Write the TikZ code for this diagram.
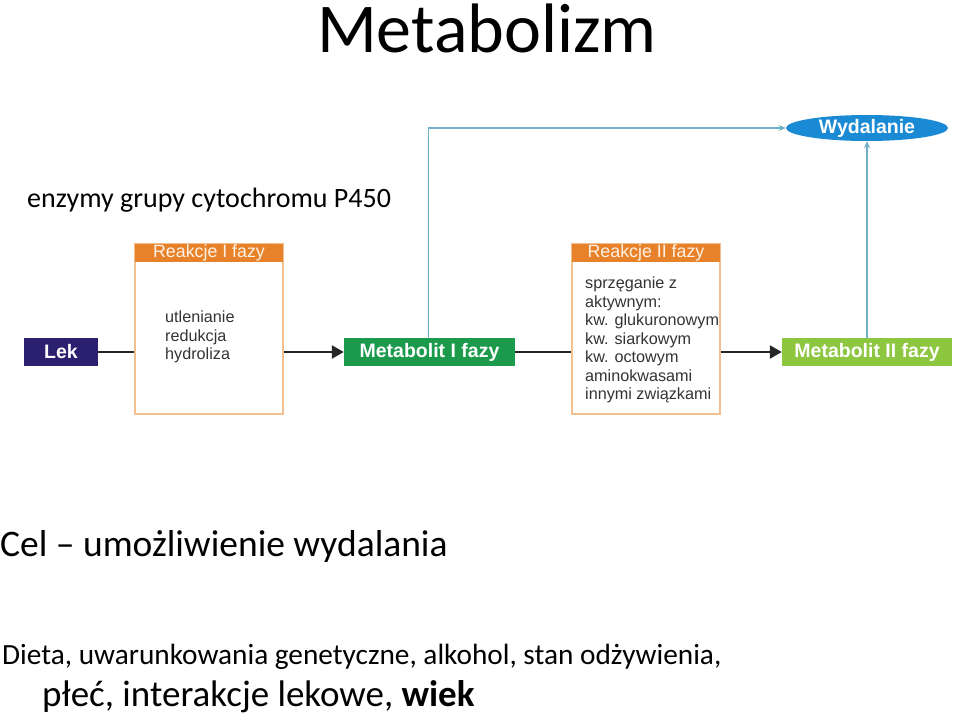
\documentclass[tikz,border=0pt]{standalone}
\usepackage{fontspec}
\setmainfont{Carlito}
\newfontfamily\diagfont{Liberation Sans}
\usetikzlibrary{arrows.meta,shapes.geometric}
\definecolor{lekblue}{HTML}{2B1F70}
\definecolor{metagreen}{HTML}{1B9A4B}
\definecolor{metalight}{HTML}{8DC63F}
\definecolor{phaseorange}{HTML}{E8822A}
\definecolor{boxborder}{HTML}{F2C08F}
\definecolor{exitblue}{HTML}{1A8AD4}
\definecolor{linkblue}{HTML}{6FAFC8}
\tikzstyle{stage} = [rectangle, text=white, font=\diagfont\bfseries\fontsize{19.5}{21}\selectfont, inner sep=0pt, minimum height=28pt]
\tikzstyle{phase} = [rectangle, draw=boxborder, line width=1.2pt, minimum width=148pt, minimum height=170pt, inner sep=0pt]
\tikzstyle{phasehead} = [rectangle, fill=phaseorange, text=white!90!orange, font=\diagfont\fontsize{17.8}{19}\selectfont, minimum width=148pt, minimum height=18pt, inner sep=0pt]
\tikzstyle{phasetext} = [align=left, font=\diagfont\fontsize{16.2}{18.5}\selectfont, text=black!80, inner sep=0pt]
\tikzset{edge/.style = {line width=2.5pt, black!85, -{Triangle[length=12pt,width=13pt]}},
  link/.style = {line width=1.2pt, linkblue, -{Stealth[length=7pt,width=6pt]}}}
\begin{document}
\begin{tikzpicture}[x=1pt, y=-1pt]
  \useasboundingbox (0,0) rectangle (960,718);
  % texts
  \node (title) at (487,28) {\fontsize{70}{72}\selectfont Metabolizm};
  \node[anchor=west, inner sep=0pt] (enzymes) at (27,200) {\fontsize{28}{30}\selectfont enzymy grupy cytochromu P450};
  \node[anchor=west, inner sep=0pt] (goal) at (0,546) {\fontsize{37.5}{40}\selectfont Cel -- umożliwienie wydalania};
  \node[anchor=west, inner sep=0pt] (factors1) at (2,657) {\fontsize{29.3}{34}\selectfont Dieta, uwarunkowania genetyczne, alkohol, stan odżywienia,};
  \node[anchor=west, inner sep=0pt] (factors2) at (42,697) {\fontsize{37}{40}\selectfont płeć, interakcje lekowe, \textbf{wiek}};

  % vertices
  \node[stage, fill=lekblue, minimum width=74pt] (lek) at (61,352) {Lek};
  \node[phase] (ph1) at (209,329) {};
  \node[phasehead, anchor=north] (ph1head) at (ph1.north) {Reakcje I fazy};
  \node[phasetext, anchor=north west] (ph1text) at (165,311) {utlenianie\\redukcja\\hydroliza};
  \node[stage, fill=metagreen, minimum width=171pt] (met1) at (429.5,352) {Metabolit I fazy};
  \node[phase] (ph2) at (646,329) {};
  \node[phasehead, anchor=north] (ph2head) at (ph2.north) {Reakcje II fazy};
  \node[phasetext, anchor=north west] (ph2text) at (585,277) {sprzęganie z\\aktywnym:\\kw. glukuronowym\\kw. siarkowym\\kw. octowym\\aminokwasami\\innymi związkami};
  \node[stage, fill=metalight, minimum width=170pt] (met2) at (867,352) {Metabolit II fazy};
  \node[ellipse, fill=exitblue, text=white, font=\diagfont\bfseries\fontsize{19.5}{21}\selectfont, minimum width=162pt, minimum height=26pt, inner sep=0pt] (exit) at (867,128) {Wydalanie};

  % edges
  \draw[line width=2.5pt, black!85] (lek.east) -- (lek.east -| ph1.west);
  \draw[edge] (met1.west -| ph1.east) -- (met1.west);
  \draw[line width=2.5pt, black!85] (met1.east) -- (met1.east -| ph2.west);
  \draw[edge] (met2.west -| ph2.east) -- (met2.west);
  \draw[link] (met1.north) ++(-1,0) |- (exit.west);
  \draw[link] (met2) -- (exit);
\end{tikzpicture}
\end{document}
